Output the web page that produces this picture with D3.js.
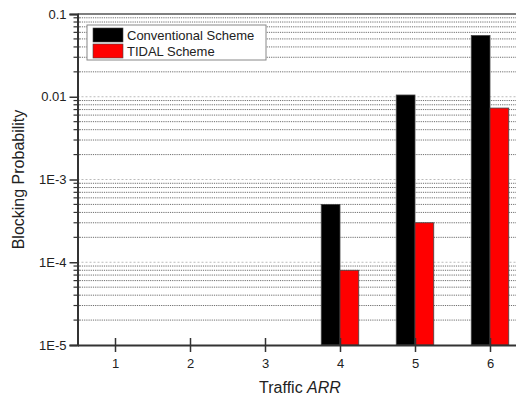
<!DOCTYPE html>
<html>
<head>
<meta charset="utf-8">
<script src="https://cdn.jsdelivr.net/npm/d3@7"></script>
<style>
  body { margin: 0; background: #fff; }
  svg { display: block; font-family: "Liberation Sans", Arial, sans-serif; }
</style>
</head>
<body>
<svg id="chart" width="516" height="398"></svg>
<script>
// Traffic load levels (ARR) and blocking probabilities per scheme
const categories = [1, 2, 3, 4, 5, 6];
const conventional = [null, null, null, 5.0e-4, 1.05e-2, 5.5e-2];
const tidal = [null, null, null, 8.0e-5, 3.0e-4, 7.3e-3];
const seriesNames = ["Conventional Scheme", "TIDAL Scheme"];
const seriesColors = ["#000000", "#ff0000"];
const yTickValues = [1e-5, 1e-4, 1e-3, 1e-2, 1e-1];
const yTickLabels = ["1E-5", "1E-4", "1E-3", "0.01", "0.1"];

const svg = d3.select("#chart");
const plotLeft = 77.5, plotTop = 14, plotBottom = 345;

const x = d3.scaleLinear().domain([0.5, 6.5]).range([plotLeft, 527.5]);
const y = d3.scaleLog().domain([1e-5, 0.1]).range([plotBottom, plotTop]);
const barW = x(0.25) - x(0);

// Horizontal grid: dotted at minor log steps, lighter dashes at decades
const minor = [];
for (let e = -5; e < -1; e++) {
  for (let m = 2; m <= 9; m++) minor.push(m * Math.pow(10, e));
}
svg.append("g").selectAll("line").data(minor).join("line")
  .attr("x1", plotLeft).attr("x2", 516)
  .attr("y1", d => y(d)).attr("y2", d => y(d))
  .attr("stroke", "#6e6e6e").attr("stroke-width", 1)
  .attr("stroke-dasharray", "1.2,1");
svg.append("g").selectAll("line").data(yTickValues.slice(1, 4)).join("line")
  .attr("x1", plotLeft).attr("x2", 516)
  .attr("y1", d => y(d)).attr("y2", d => y(d))
  .attr("stroke", "#bbbbbb").attr("stroke-width", 1)
  .attr("stroke-dasharray", "2,2");

// Bars
const series = [conventional, tidal];
series.forEach((vals, si) => {
  const data = categories.map((c, i) => ({ c, v: vals[i] })).filter(d => d.v != null);
  svg.append("g").selectAll("rect").data(data).join("rect")
    .attr("x", d => x(d.c) + (si === 0 ? -barW : 0))
    .attr("width", barW)
    .attr("y", d => y(d.v))
    .attr("height", d => plotBottom - y(d.v))
    .attr("fill", seriesColors[si])
    .attr("stroke", "#444").attr("stroke-width", 0.8);
});

// Top frame line
svg.append("line")
  .attr("x1", plotLeft).attr("x2", 516).attr("y1", plotTop).attr("y2", plotTop)
  .attr("stroke", "#555").attr("stroke-width", 1.5);

// Y axis with major and minor ticks
const yAxis = d3.axisLeft(y)
  .tickValues(yTickValues)
  .tickFormat((d, i) => yTickLabels[i])
  .tickSize(8).tickPadding(3);
const gy = svg.append("g").attr("transform", `translate(${plotLeft},0)`).call(yAxis);
gy.select(".domain").attr("stroke", "#333").attr("stroke-width", 2);
gy.selectAll(".tick line").attr("stroke", "#333").attr("stroke-width", 1.5);
gy.selectAll(".tick text").attr("font-size", 13).attr("fill", "#222")
  .attr("font-family", "Liberation Sans, Arial, sans-serif");
svg.append("g").selectAll("line").data(minor).join("line")
  .attr("x1", plotLeft - 4).attr("x2", plotLeft + 2)
  .attr("y1", d => y(d)).attr("y2", d => y(d))
  .attr("stroke", "#333").attr("stroke-width", 1.2);

// X axis
const xAxis = d3.axisBottom(x).tickValues(categories).tickFormat(d3.format("d"))
  .tickSizeInner(6).tickSizeOuter(0).tickPadding(8);
const gx = svg.append("g").attr("transform", `translate(0,${plotBottom})`).call(xAxis);
gx.select(".domain").attr("stroke", "#333").attr("stroke-width", 2);
gx.selectAll(".tick line").attr("stroke", "#333").attr("stroke-width", 1.5)
  .attr("y1", -7).attr("y2", 7);
gx.selectAll(".tick text").attr("font-size", 13).attr("fill", "#222")
  .attr("font-family", "Liberation Sans, Arial, sans-serif");

// Axis titles
svg.append("text")
  .attr("transform", `translate(24,${(plotTop + plotBottom) / 2}) rotate(-90)`)
  .attr("text-anchor", "middle")
  .attr("font-size", 16).attr("fill", "#222")
  .text("Blocking Probability");
const xt = svg.append("text")
  .attr("x", 300).attr("y", 393)
  .attr("text-anchor", "middle")
  .attr("font-size", 16).attr("fill", "#222");
xt.append("tspan").text("Traffic ");
xt.append("tspan").attr("font-style", "italic").text("ARR");

// Legend
const lg = svg.append("g").attr("transform", "translate(87,25)");
lg.append("rect").attr("width", 179).attr("height", 35)
  .attr("fill", "#fff").attr("stroke", "#888").attr("stroke-width", 1);
seriesNames.forEach((name, i) => {
  lg.append("rect").attr("x", 6).attr("y", 3 + i * 16).attr("width", 30).attr("height", 14)
    .attr("fill", seriesColors[i]).attr("stroke", "#444").attr("stroke-width", 0.6);
  lg.append("text").attr("x", 40).attr("y", 15 + i * 16)
    .attr("font-size", 13).attr("fill", "#222").text(name);
});
</script>
</body>
</html>
